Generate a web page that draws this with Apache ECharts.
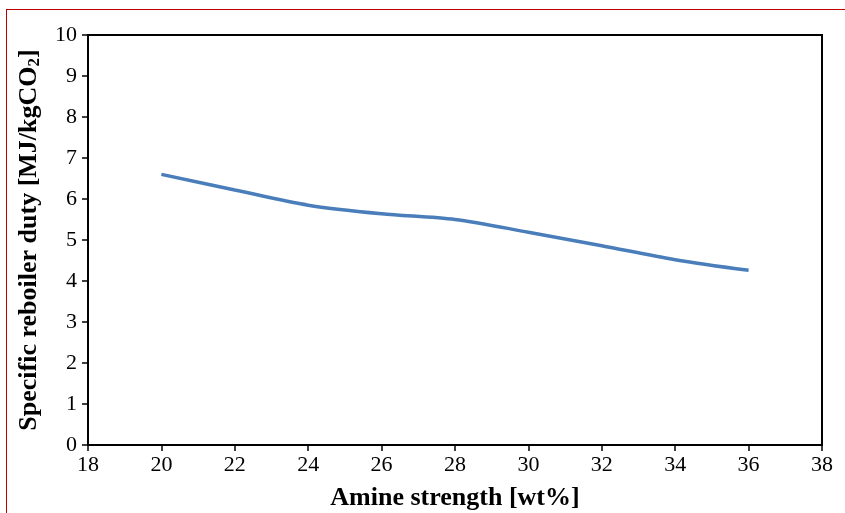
<!DOCTYPE html>
<html><head><meta charset="utf-8">
<script src="https://cdn.jsdelivr.net/npm/echarts@6/dist/echarts.min.js"></script>
<style>
html,body{margin:0;padding:0;background:#fff;overflow:hidden}
#frame{position:absolute;left:6px;top:9px;width:860px;height:520px;border:1px solid #c00000;box-sizing:border-box}
#c{position:absolute;left:0;top:0;width:845px;height:513px}
</style></head><body>
<div id="frame"></div>
<div id="c"></div>
<script>
const amineStrength = [20, 22, 24, 26, 28, 30, 32, 34, 36];
const reboilerDuty = [6.6, 6.22, 5.85, 5.64, 5.5, 5.19, 4.86, 4.52, 4.26];
const xTicks = {min: 18, max: 38, interval: 2};
const yTicks = {min: 0, max: 10, interval: 1};

const chart = echarts.init(document.getElementById('c'));
const font = '"Liberation Serif", "DejaVu Serif", serif';
chart.setOption({
  animation: false,
  grid: {left: 88, right: 23, top: 35, bottom: 68, containLabel: false, outerBoundsMode: 'none',
         show: true, borderColor: '#000', borderWidth: 2},
  xAxis: {
    type: 'value', min: xTicks.min, max: xTicks.max, interval: xTicks.interval,
    name: 'Amine strength [wt%]', nameLocation: 'middle', nameGap: 40,
    nameTextStyle: {fontFamily: font, fontWeight: 'bold', fontSize: 26, color: '#000'},
    axisLine: {lineStyle: {color: '#000', width: 2}},
    axisTick: {inside: false, length: 6, lineStyle: {color: '#000', width: 1.5}},
    axisLabel: {fontFamily: font, fontSize: 22, color: '#000', margin: 9},
    splitLine: {show: false}
  },
  yAxis: {
    type: 'value', min: yTicks.min, max: yTicks.max, interval: yTicks.interval,
    name: 'Specific reboiler duty [MJ/kgCO{sub|2}]', nameLocation: 'middle', nameGap: 45,
    nameTextStyle: {fontFamily: font, fontWeight: 'bold', fontSize: 26, color: '#000',
      rich: {sub: {fontFamily: font, fontWeight: 'bold', fontSize: 17, color: '#000', verticalAlign: 'bottom', padding: [10, 0, 0, 0]}}},
    axisLine: {show: true, lineStyle: {color: '#000', width: 2}},
    axisTick: {show: true, inside: false, length: 6, lineStyle: {color: '#000', width: 1.5}},
    axisLabel: {fontFamily: font, fontSize: 22, color: '#000', margin: 11},
    splitLine: {show: false}
  },
  series: [{
    type: 'line',
    data: amineStrength.map((x, i) => [x, reboilerDuty[i]]),
    smooth: 0.3,
    showSymbol: false,
    lineStyle: {color: '#4a7ebb', width: 3.5}
  }]
});
</script>
</body></html>
